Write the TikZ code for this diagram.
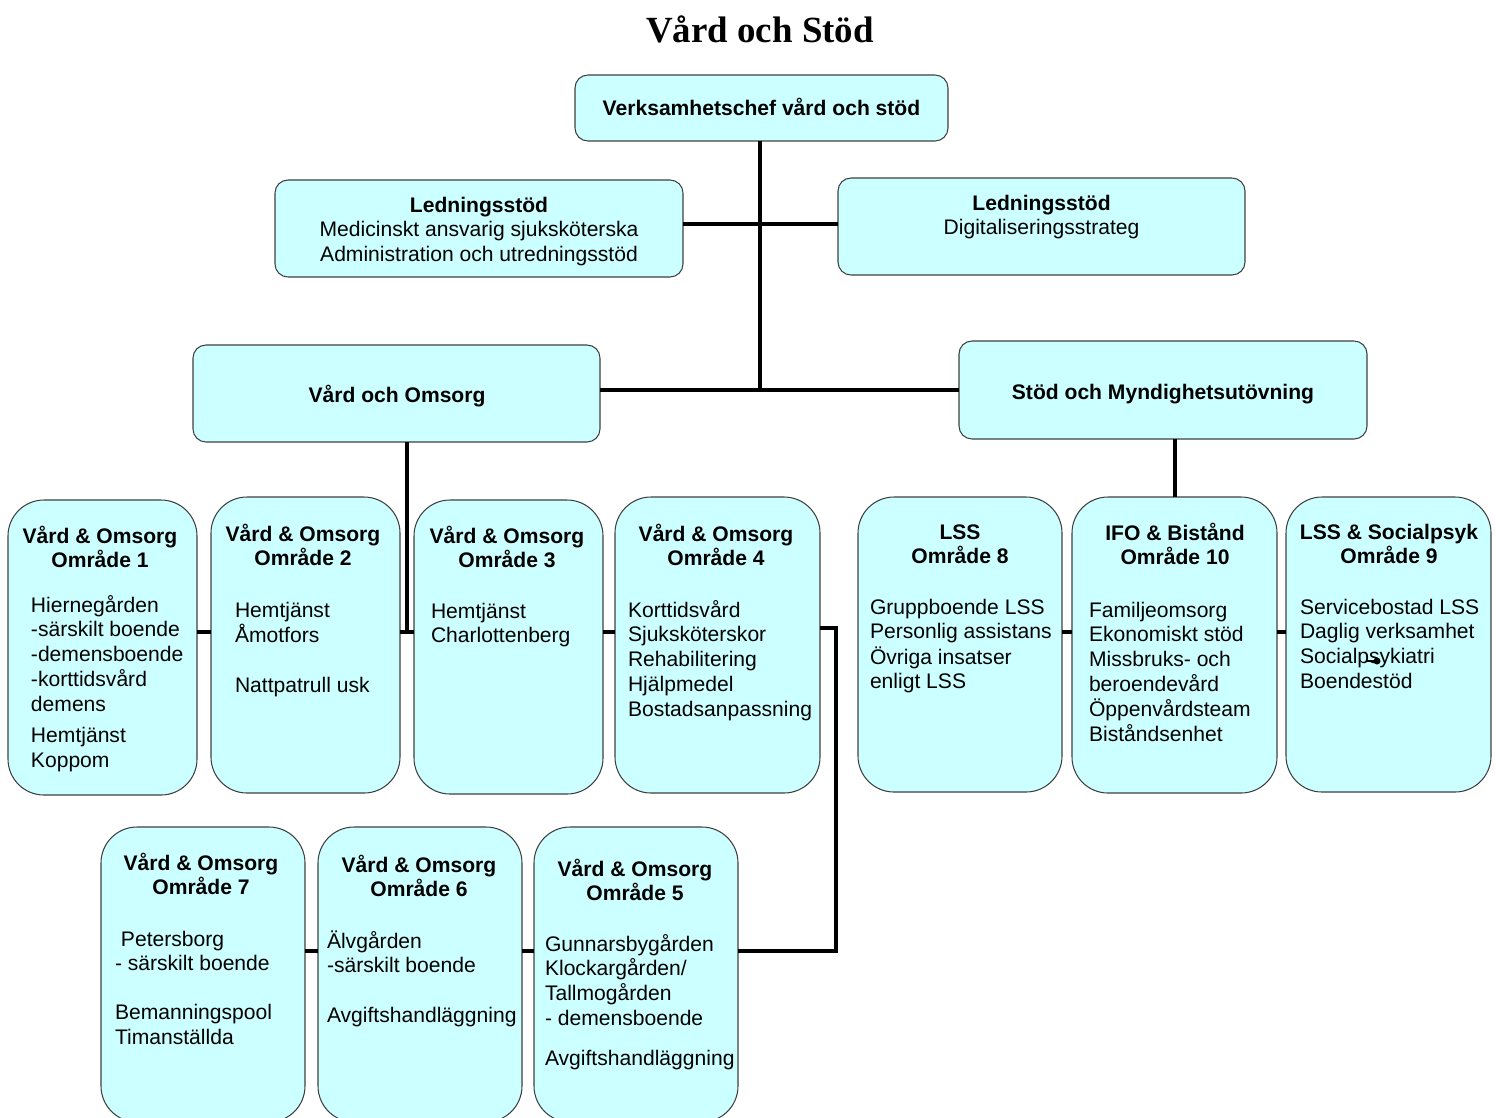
\documentclass[tikz,border=0pt]{standalone}
\usepackage{fontspec}
\setmainfont{Liberation Sans}
\newfontfamily\titlefont{Liberation Serif}
\definecolor{boxfill}{HTML}{CCFFFF}
\definecolor{boxline}{HTML}{404040}
\newcommand{\tl}[2]{\begin{tabular}[t]{@{}#1@{}}#2\end{tabular}}
\begin{document}
\begin{tikzpicture}[x=0.02cm,y=-0.02cm,
  every node/.style={inner sep=0pt, outer sep=0pt, font=\fontsize{12}{14.17}\selectfont},
  box/.style={draw=boxline, line width=0.6pt, fill=boxfill},
  hbox/.style 2 args={box, rounded corners=0.26cm, minimum width={#1*0.02cm}, minimum height={#2*0.02cm}},
  rbox/.style 2 args={box, rounded corners=0.72cm, minimum width={#1*0.02cm}, minimum height={#2*0.02cm}},
  head/.style={anchor=base, font=\fontsize{12}{14.17}\selectfont\bfseries},
  body/.style={anchor=base west},
  conn/.style={line width=2.27pt, black}]
\useasboundingbox (0,0) rectangle (1496,1117);
\fill[white] (0,0) rectangle (1496,1117);
\clip (0,0) rectangle (1496,1117);

\node[anchor=base, font=\titlefont\bfseries\fontsize{21}{25}\selectfont] (title) at (760,42) {Vård och Stöd};

% top level boxes
\node[hbox={373}{66}] (top) at (761.5,108) {};
\node[head] (topt) at (761.5,115) {Verksamhetschef vård och stöd};

\node[hbox={408}{97}] (ll) at (479,228.5) {};
\node[anchor=base] (llt) at (479,212) {\tl{c}{\textbf{Ledningsstöd}\\Medicinskt ansvarig sjuksköterska\\Administration och utredningsstöd}};

\node[hbox={407}{97}] (lr) at (1041.5,226.5) {};
\node[anchor=base] (lrt) at (1041.5,210) {\tl{c}{\textbf{Ledningsstöd}\\Digitaliseringsstrateg}};

\node[hbox={407}{97}] (vo) at (396.5,393.5) {};
\node[head] (vot) at (397,402) {Vård och Omsorg};

\node[hbox={408}{98}] (sm) at (1163,390) {};
\node[head] (smt) at (1163,399) {Stöd och Myndighetsutövning};

% row 2
\node[rbox={189}{295}] (b1) at (102.5,647.5) {};
\node[head] (b1h) at (100,543) {\tl{c}{Vård \& Omsorg\\Område 1}};
\node[body] (b1b) at (31,612) {\tl{l}{Hiernegården\\-särskilt boende\\-demensboende\\-korttidsvård\\demens\\[0.12cm]Hemtjänst\\Koppom}};

\node[rbox={189}{296}] (b2) at (305.5,645) {};
\node[head] (b2h) at (303,541) {\tl{c}{Vård \& Omsorg\\Område 2}};
\node[body] (b2b) at (235,617) {\tl{l}{Hemtjänst\\Åmotfors\\[0.5cm]Nattpatrull usk}};

\node[rbox={189}{294}] (b3) at (508.5,647) {};
\node[head] (b3h) at (507,543) {\tl{c}{Vård \& Omsorg\\Område 3}};
\node[body] (b3b) at (431,618) {\tl{l}{Hemtjänst\\Charlottenberg}};

\node[rbox={205}{296}] (b4) at (717.5,645) {};
\node[head] (b4h) at (716,541) {\tl{c}{Vård \& Omsorg\\Område 4}};
\node[body] (b4b) at (628,617) {\tl{l}{Korttidsvård\\Sjuksköterskor\\Rehabilitering\\Hjälpmedel\\Bostadsanpassning}};

\node[rbox={204}{295}] (b8) at (960,644.5) {};
\node[head] (b8h) at (960,539) {\tl{c}{LSS\\Område 8}};
\node[body] (b8b) at (870,614) {\tl{l}{Gruppboende LSS\\Personlig assistans\\Övriga insatser\\enligt LSS}};

\node[rbox={205}{296}] (b10) at (1174.5,645) {};
\node[head] (b10h) at (1175,540) {\tl{c}{IFO \& Bistånd\\Område 10}};
\node[body] (b10b) at (1089,617) {\tl{l}{Familjeomsorg\\Ekonomiskt stöd\\Missbruks- och\\beroendevård\\Öppenvårdsteam\\Biståndsenhet}};

\node[rbox={205}{295}] (b9) at (1388.5,644.5) {};
\node[head] (b9h) at (1389,539) {\tl{c}{LSS \& Socialpsyk\\Område 9}};
\node[body] (b9b) at (1300,614) {\tl{l}{Servicebostad LSS\\Daglig verksamhet\\Socialpsykiatri\\Boendestöd}};

% row 3
\node[rbox={204}{295}] (b7) at (203,974.5) {};
\node[head] (b7h) at (201,870) {\tl{c}{Vård \& Omsorg\\Område 7}};
\node[body] (b7b) at (115,946) {\tl{l}{\hspace{3.4pt}Petersborg\\- särskilt boende\\[0.48cm]Bemanningspool\\Timanställda}};

\node[rbox={204}{295}] (b6) at (420,974.5) {};
\node[head] (b6h) at (419,872) {\tl{c}{Vård \& Omsorg\\Område 6}};
\node[body] (b6b) at (327,948) {\tl{l}{Älvgården\\-särskilt boende\\[0.5cm]Avgiftshandläggning}};

\node[rbox={204}{295}] (b5) at (636,974.5) {};
\node[head] (b5h) at (635,876) {\tl{c}{Vård \& Omsorg\\Område 5}};
\node[body] (b5b) at (545,951) {\tl{l}{Gunnarsbygården\\Klockargården/\\Tallmogården\\- demensboende\\[0.3cm]Avgiftshandläggning}};

% connectors
\coordinate (hl) at (760,224);
\coordinate (h) at (760,390);
\draw[conn] (top.south -| h) -- (h);
\draw[conn] (ll.east |- hl) -- (lr.west |- hl);
\draw[conn] (vo.east |- h) -- (sm.west |- h);

\coordinate (j) at (407,632);
\draw[conn] (vo.south -| j) -- (j);
\draw[conn] (b1.east |- j) -- (b2.west |- j);
\draw[conn] (b2.east |- j) -- (b3.west |- j);
\draw[conn] (b3.east |- j) -- (b4.west |- j);

\coordinate (k) at (836,628);
\coordinate (k2) at (836,951);
\draw[conn, line join=miter] (b4.east |- k) -- (k) -- (k2) -- (b5.east |- k2);
\draw[conn] (b5.west |- k2) -- (b6.east |- k2);
\draw[conn] (b6.west |- k2) -- (b7.east |- k2);

\draw[conn] (sm.south -| b10.north) -- (b10.north);
\draw[conn] (b8.east |- j) -- (b10.west |- j);
\draw[conn] (b10.east |- j) -- (b9.west |- j);

% small stray mark in box 9
\coordinate (m1) at (1366,661);
\coordinate (m2) at (1377,661);
\draw[line width=1pt] (m1) -- (m2);
\fill (m2) circle (3.5);
\end{tikzpicture}
\end{document}
